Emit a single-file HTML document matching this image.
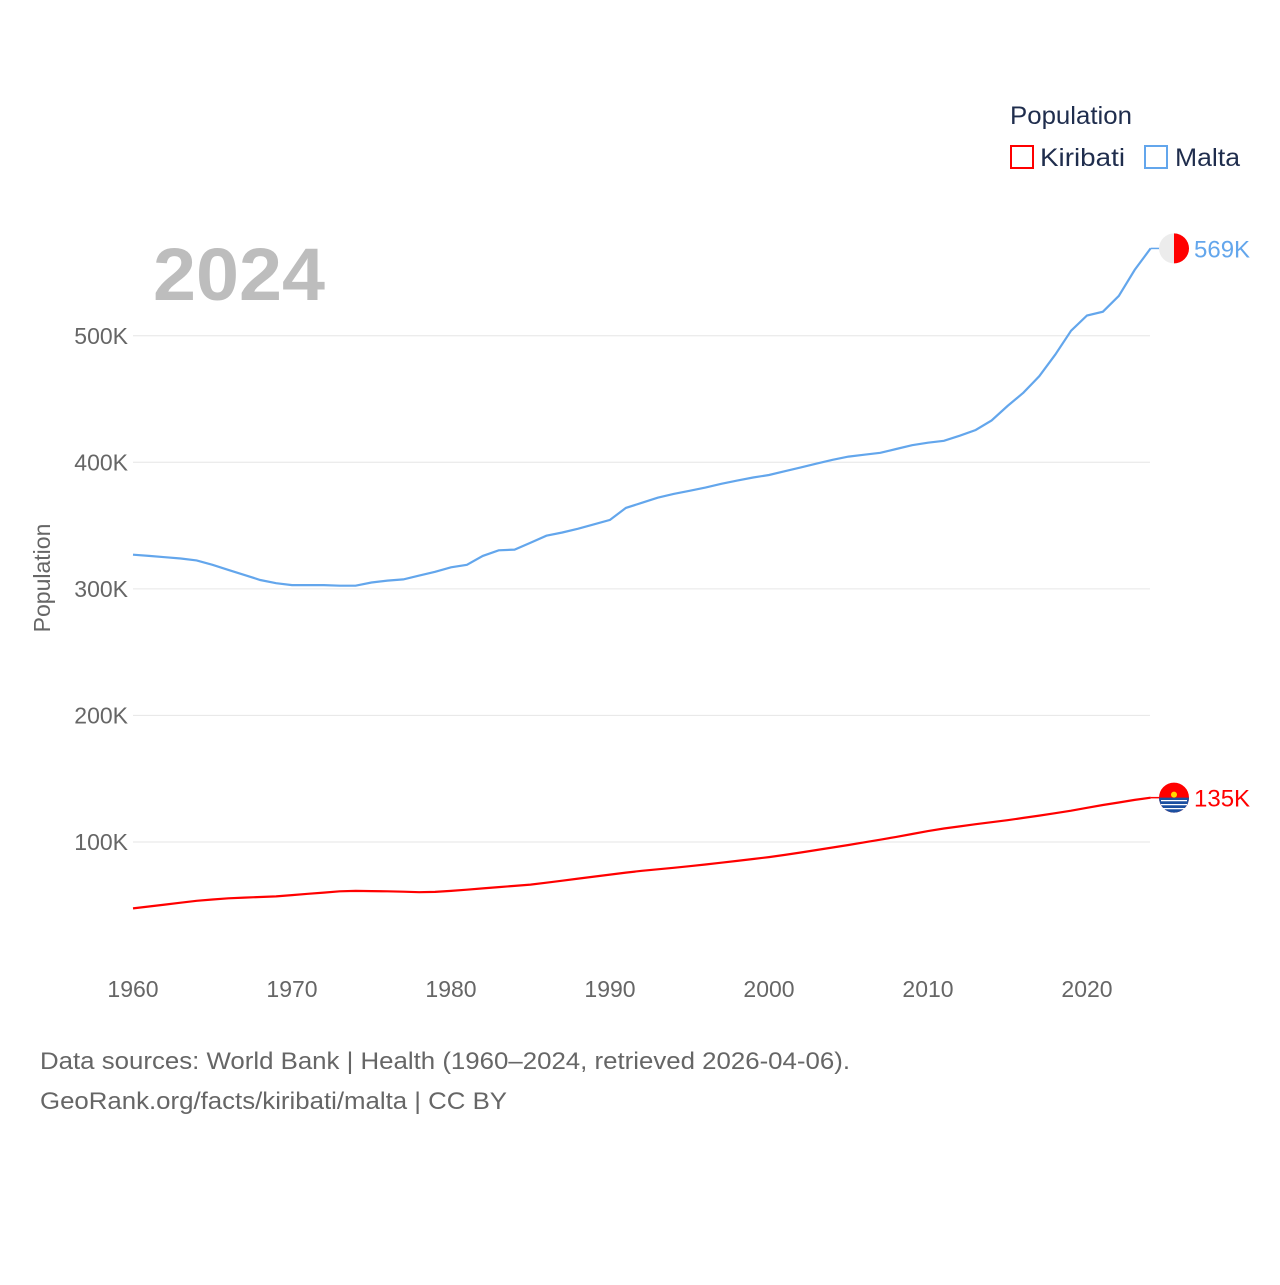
<!DOCTYPE html>
<html><head><meta charset="utf-8"><style>
body{margin:0;background:#fff;font-family:"Liberation Sans",sans-serif}
svg text{font-family:"Liberation Sans",sans-serif}
</style></head><body>
<svg width="1280" height="1280">
<text x="153" y="300" font-size="74" font-weight="bold" fill="#bdbdbd" textLength="172" lengthAdjust="spacingAndGlyphs">2024</text>
<text x="1010" y="124" font-size="25" fill="#1f2d4d" textLength="122" lengthAdjust="spacingAndGlyphs">Population</text>
<g><rect x="1011" y="146" width="22" height="22" fill="none" stroke="#f00" stroke-width="2"/><text x="1040" y="166" font-size="25" fill="#1f2d4d" textLength="85" lengthAdjust="spacingAndGlyphs">Kiribati</text></g>
<g><rect x="1145" y="146" width="22" height="22" fill="none" stroke="#63a6ec" stroke-width="2"/><text x="1175" y="166" font-size="25" fill="#1f2d4d" textLength="65" lengthAdjust="spacingAndGlyphs">Malta</text></g>
<text transform="translate(50,578) rotate(-90)" text-anchor="middle" font-size="23" fill="#666">Population</text>
<g id="grid"></g><g id="series"></g>
<text x="40" y="1069" font-size="24" fill="#666" textLength="810" lengthAdjust="spacingAndGlyphs">Data sources: World Bank | Health (1960–2024, retrieved 2026-04-06).</text>
<text x="40" y="1109" font-size="24" fill="#666" textLength="467" lengthAdjust="spacingAndGlyphs">GeoRank.org/facts/kiribati/malta | CC BY</text>
</svg>
<script>
const years=[];for(let y=1960;y<=2024;y++)years.push(y);
const malta=[327,326,325,324,322.5,319,315,311,307,304.5,303,303,303,302.5,302.5,305,306.5,307.5,310.5,313.5,317,319,326,330.5,331,336.5,342,344.5,347.5,351,354.5,364,368,372,375,377.5,380,383,385.5,388,390,393,396,399,402,404.5,406,407.5,410.5,413.5,415.5,417,421,425.5,433,444.5,455,468,485,504,516,519,531.5,552,569];
const kiribati=[47.5,49,50.5,52,53.5,54.5,55.5,56,56.5,57,58,59,60,61,61.3,61.2,61,60.7,60.3,60.5,61.3,62.3,63.3,64.3,65.3,66.3,67.8,69.4,71,72.6,74.2,75.8,77.2,78.4,79.6,80.8,82.2,83.6,85,86.5,88,89.8,91.7,93.6,95.6,97.6,99.7,101.8,104,106.3,108.6,110.6,112.3,114,115.6,117.2,119,120.8,122.7,124.7,127,129.2,131.2,133.2,135];
const yTicks=[100,200,300,400,500];
const xTicks=[1960,1970,1980,1990,2000,2010,2020];
const X=y=>133+(y-1960)*(1087-133)/60;
const Y=v=>968.5-v*1.2655;
const NS="http://www.w3.org/2000/svg";
function mk(t,a,p){const e=document.createElementNS(NS,t);for(const k in a)e.setAttribute(k,a[k]);p.appendChild(e);return e;}
const g=document.getElementById('grid');
yTicks.forEach(v=>{
 const l=mk('line',{x1:133,x2:1150,y1:Y(v),y2:Y(v),stroke:'#e6e6e6','stroke-width':1},g);
 
 
 const t=mk('text',{x:128,y:Y(v)+8,'text-anchor':'end','font-size':23,fill:'#666'},g);t.textContent=v+'K';
 
 
});
xTicks.forEach(v=>{
 const t=mk('text',{x:X(v),y:997,'text-anchor':'middle','font-size':23,fill:'#666'},g);t.textContent=v;
 
 
});
const s=document.getElementById('series');
function line(data,color,name){
 const d=data.map((v,i)=>(i?'L':'M')+X(years[i]).toFixed(1)+','+Y(v).toFixed(1)).join('');
 const p=mk('path',{d:d,fill:'none',stroke:color,'stroke-width':2.2},s);
 
 
 const last=data[data.length-1],lx=X(2024),ly=Y(last);
 mk('line',{x1:lx,x2:lx+10,y1:ly,y2:ly,stroke:color,'stroke-width':1.5},s);
 const t=mk('text',{x:1194,y:ly+9,'font-size':24,fill:color},s);t.textContent=Math.round(last)+'K';
 
 
 return ly;
}
const my=line(malta,'#63a6ec','malta');
const ky=line(kiribati,'#ff0000','kiribati');
const fm=mk('g',{},s);


mk('circle',{cx:1174,cy:my,r:15,fill:'#ececec'},fm);
mk('path',{d:`M1174,${my-15}A15,15 0 0 1 1174,${my+15}Z`,fill:'#f00'},fm);
const fk=mk('g',{},s);


mk('circle',{cx:1174,cy:ky,r:15,fill:'#f00'},fk);
mk('path',{d:`M1159,${ky}A15,15 0 0 0 1189,${ky}Z`,fill:'#1b4fa0'},fk);
for(let i=0;i<3;i++)mk('line',{x1:1161,x2:1187,y1:ky+3+i*4,y2:ky+3+i*4,stroke:'#fff','stroke-width':1.3},fk);
mk('circle',{cx:1174,cy:ky-3,r:3,fill:'#ffd700'},fk);
</script>
</body></html>
